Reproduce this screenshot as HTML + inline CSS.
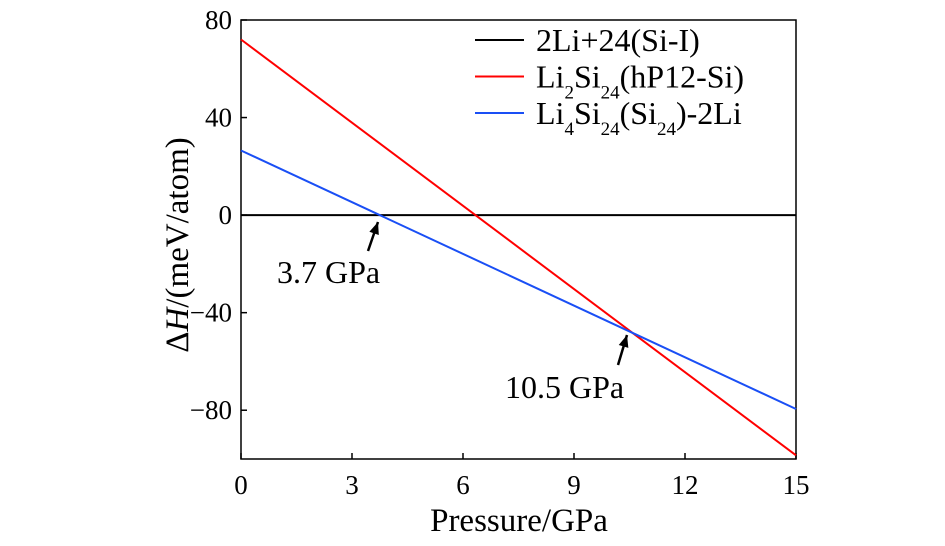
<!DOCTYPE html>
<html><head><meta charset="utf-8"><style>
body{margin:0;background:#fff;width:945px;height:541px;overflow:hidden}
svg text{font-family:"Liberation Serif",serif;fill:#000}
</style></head><body>
<svg width="945" height="541">
<g id="plot"></g>
</svg>
<script>
const xTicks=[0,3,6,9,12,15];
const yTicks=[80,40,0,-40,-80];
const yTickLabels=["80","40","0","\u221240","\u221280"];
const pressure=[0,15];
const seriesBlack=[0,0];
const seriesRed=[72,-98.5];
const seriesBlue=[26.5,-79.5];
const NS="http://www.w3.org/2000/svg";
const L=241,R=796,T=20,B=459;
const X=v=>L+(v-0)/(15-0)*(R-L);
const Y=v=>T+(80-v)/(80-(-100))*(B-T);
const g=document.getElementById('plot');
function mk(t,a,txt){const e=document.createElementNS(NS,t);for(const k in a)e.setAttribute(k,a[k]);if(txt!=null)e.textContent=txt;g.appendChild(e);return e;}
let e;
e=mk('rect',{x:L,y:T,width:R-L,height:B-T,fill:'none',stroke:'#000','stroke-width':1.5});


xTicks.forEach(v=>{
 e=mk('line',{x1:X(v),x2:X(v),y1:B,y2:B-6,stroke:'#000','stroke-width':1.5});
 
 
 e=mk('text',{x:X(v),y:B+35,'text-anchor':'middle','font-size':27},String(v));
 
 
});
yTicks.forEach((v,i)=>{
 e=mk('line',{x1:L,x2:L+6,y1:Y(v),y2:Y(v),stroke:'#000','stroke-width':1.5});
 
 
 e=mk('text',{x:L-9,y:Y(v)+9,'text-anchor':'end','font-size':27},yTickLabels[i]);
 
 
});
function line(vals,color,name){
 const e=mk('line',{x1:X(pressure[0]),y1:Y(vals[0]),x2:X(pressure[1]),y2:Y(vals[1]),stroke:color,'stroke-width':2});
 
 
}
line(seriesBlack,'#000','series-2li-si-i');
line(seriesRed,'#f00','series-li2si24');
line(seriesBlue,'#1a4ff5','series-li4si24');
e=mk('text',{x:519,y:531,'text-anchor':'middle','font-size':33},'Pressure/GPa');


e=mk('text',{transform:'translate(188,245) rotate(-90)','text-anchor':'middle','font-size':33});
e.innerHTML='ΔH/(meV/atom)'.replace('H','<tspan font-style="italic">H</tspan>');


const leg=[['#000','2Li+24(Si-I)'],['#f00','Li<tspan baseline-shift="sub" font-size="19">2</tspan>Si<tspan baseline-shift="sub" font-size="19">24</tspan>(hP12-Si)'],['#1a4ff5','Li<tspan baseline-shift="sub" font-size="19">4</tspan>Si<tspan baseline-shift="sub" font-size="19">24</tspan>(Si<tspan baseline-shift="sub" font-size="19">24</tspan>)-2Li']];
leg.forEach((l,i)=>{
 const y=40+i*36.5;
 e=mk('line',{x1:475,x2:524,y1:y,y2:y,stroke:l[0],'stroke-width':2});
 
 
 e=mk('text',{x:536,y:y+11,'font-size':32});
 e.innerHTML=l[1];
 
 
});
function arrow(x1,y1,x2,y2,name){
 const e=mk('line',{x1,y1,x2,y2,stroke:'#000','stroke-width':2.5});
 
 
 const a=Math.atan2(y2-y1,x2-x1),s=12,w=5;
 const bx=x2-s*Math.cos(a),by=y2-s*Math.sin(a);
 const p=mk('polygon',{points:`${x2},${y2} ${bx+w*Math.sin(a)},${by-w*Math.cos(a)} ${bx-w*Math.sin(a)},${by+w*Math.cos(a)}`,fill:'#000'});
 
 
}
arrow(368,251,378,222,'arrow-3-7');
arrow(618,365,627,335,'arrow-10-5');
e=mk('text',{x:277,y:283,'font-size':32},'3.7 GPa');


e=mk('text',{x:505,y:398,'font-size':32},'10.5 GPa');


</script>
</body></html>
